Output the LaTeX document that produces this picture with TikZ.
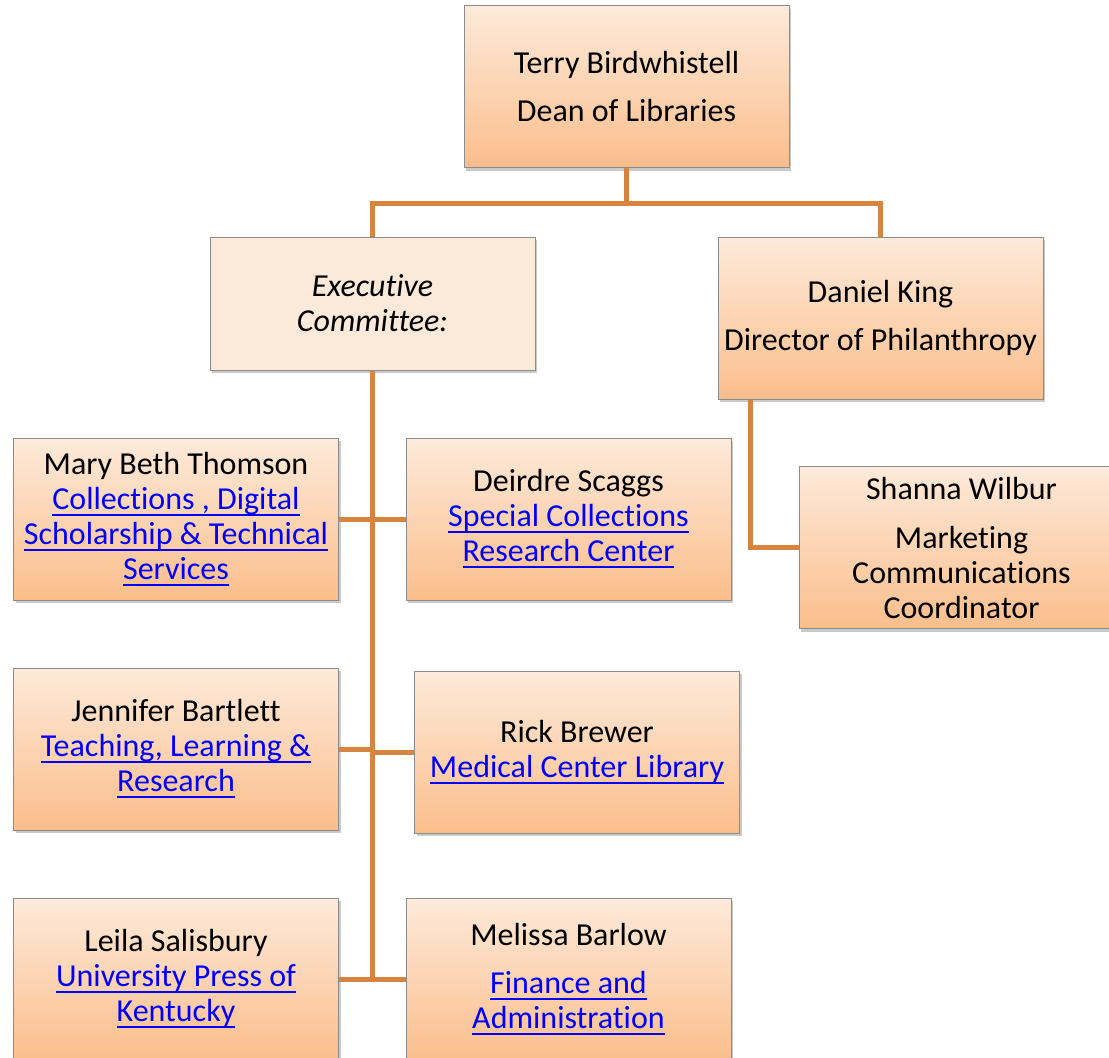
\documentclass[tikz,border=0pt]{standalone}
\usepackage{fontspec}
\setmainfont{Carlito}[Ligatures=NoCommon]
\usetikzlibrary{shadows,calc}
\definecolor{conn}{RGB}{214,132,64}
\definecolor{boxtop}{RGB}{253,234,218}
\definecolor{boxbot}{RGB}{251,190,140}
\definecolor{execfill}{RGB}{251,233,218}
\definecolor{boxline}{RGB}{140,140,140}
\definecolor{linkblue}{RGB}{0,0,255}
\newcommand{\lnk}[1]{{\color{linkblue}\setbox0\hbox{#1}\rlap{\vrule height -4.6pt depth 6.6pt width \wd0}\box0}}
\tikzset{
  orgbox/.style={draw=boxline, line width=1pt, top color=boxtop, bottom color=boxbot,
    minimum width=325pt, minimum height=162pt, inner sep=0pt, align=center,
    font=\fontsize{32}{35}\selectfont,
    drop shadow={shadow xshift=2pt, shadow yshift=-3pt, opacity=0.35, fill=black!60}},
  execbox/.style={orgbox, top color=execfill, bottom color=execfill, minimum height=133pt},
  connline/.style={draw=conn, line width=5pt}
}
\begin{document}
\begin{tikzpicture}[x=1pt, y=-1pt]
\useasboundingbox (0,0) rectangle (1109,1058);
\clip (0,0) rectangle (1109,1058);
\fill[white] (0,0) rectangle (1109,1058);

\node[orgbox] (terry) at (626.5,86.5) {Terry Birdwhistell\\[13pt]Dean of Libraries};
\node[execbox] (exec) at (372.5,303.5) {\itshape Executive\\\itshape Committee:};
\node[orgbox] (daniel) at (880.5,318) {Daniel King\\[13pt]Director of Philanthropy};
\node[orgbox] (shanna) at (961.5,547.5) {Shanna Wilbur\\[14pt]Marketing\\Communications\\Coordinator};

\node[orgbox] (mary) at (176,519) {Mary Beth Thomson\\\lnk{Collections , Digital}\\\lnk{Scholarship \& Technical}\\\lnk{Services}};
\node[orgbox] (deirdre) at (568.5,519) {Deirdre Scaggs\\\lnk{Special Collections}\\\lnk{Research Center}};
\node[orgbox] (jennifer) at (176,749) {Jennifer Bartlett\\\lnk{Teaching, Learning \&}\\\lnk{Research}};
\node[orgbox] (rick) at (577,752) {Rick Brewer\\\lnk{Medical Center Library}};
\node[orgbox] (leila) at (176,979) {Leila Salisbury\\\lnk{University Press of}\\\lnk{Kentucky}};
\node[orgbox] (melissa) at (568.5,979) {Melissa Barlow\\[13pt]\lnk{Finance and}\\\lnk{Administration}};

\coordinate (bus) at (626.5,203);
\draw[connline] (terry.south) -- (bus);
\draw[connline] (exec.north) |- (bus) -| (daniel.north);
\draw[connline] (exec.south) -- (exec.south |- leila.east);
\draw[connline] (mary.east) -- (deirdre.west);
\draw[connline] (jennifer.east) -- (jennifer.east -| exec.south);
\draw[connline] (rick.west) -- (rick.west -| exec.south);
\draw[connline] (leila.east) -- (melissa.west);
\draw[connline] ($(daniel.south west)+(33,0)$) |- (shanna.west);
\end{tikzpicture}
\end{document}
